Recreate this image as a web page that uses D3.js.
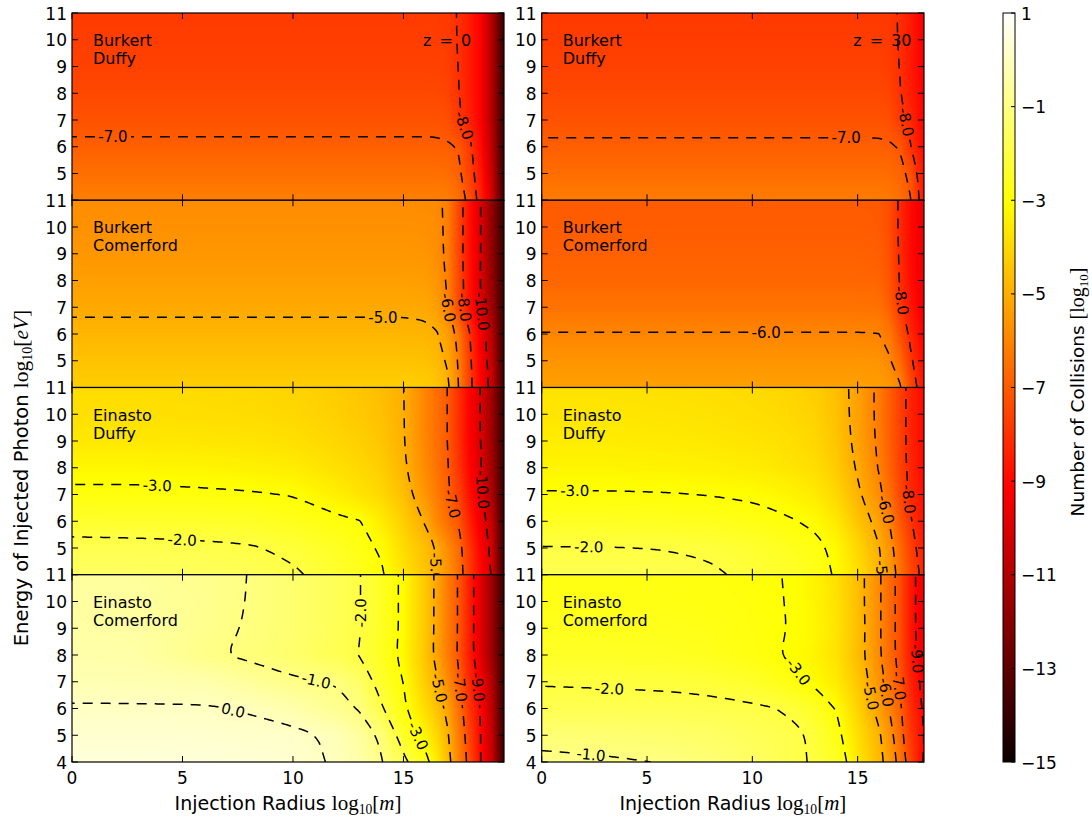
<!DOCTYPE html>
<html>
<head>
<meta charset="utf-8">
<script src="https://cdn.jsdelivr.net/npm/d3@7"></script>
<style>
  body { margin: 0; background: #fff; }
  svg { display: block; }
  text { font-family: "DejaVu Sans", sans-serif; fill: #000; }
</style>
</head>
<body>
<svg id="chart" width="1092" height="818"></svg>
<script>
// ---- grid axes (log10 radius, log10 energy) ----
var radiusZ0 = [0, 3, 6, 8, 10, 12, 13, 14, 15, 16, 16.5, 17, 17.5, 18, 18.5, 19, 19.55];
var radiusZ30 = [0, 3, 6, 8, 10, 11, 12, 13, 14, 15, 16, 16.5, 17, 17.5, 18, 18.15];
var energies = [4, 5, 6, 7, 8, 9, 10, 11];

// ---- log10 number of collisions, rows go from E = 4 up to E = 11 ----
var burkertDuffyZ0 = [
  [-6.1, -6.1, -6.1, -6.1, -6.1, -6.1, -6.1, -6.1, -6.1, -6.1, -6.1, -6.15, -6.5, -7.3, -8.4, -10.2, -14],
  [-6.5, -6.5, -6.5, -6.5, -6.5, -6.5, -6.5, -6.5, -6.5, -6.5, -6.5, -6.55, -6.85, -7.6, -8.6, -10.5, -14],
  [-6.88, -6.88, -6.88, -6.88, -6.88, -6.88, -6.88, -6.88, -6.88, -6.88, -6.88, -6.92, -7.05, -7.8, -8.9, -10.8, -14],
  [-7.2, -7.2, -7.2, -7.2, -7.2, -7.2, -7.2, -7.2, -7.2, -7.2, -7.22, -7.3, -7.85, -8.4, -9.2, -11, -14],
  [-7.45, -7.45, -7.45, -7.45, -7.45, -7.45, -7.45, -7.45, -7.45, -7.45, -7.46, -7.55, -7.98, -8.5, -9.2, -11, -14],
  [-7.6, -7.6, -7.6, -7.6, -7.6, -7.6, -7.6, -7.6, -7.6, -7.6, -7.61, -7.68, -8.02, -8.5, -9.2, -11, -14],
  [-7.7, -7.7, -7.7, -7.7, -7.7, -7.7, -7.7, -7.7, -7.7, -7.7, -7.71, -7.76, -8.05, -8.5, -9.2, -11, -14],
  [-7.75, -7.75, -7.75, -7.75, -7.75, -7.75, -7.75, -7.75, -7.75, -7.75, -7.76, -7.8, -8.05, -8.5, -9.2, -11, -14]
];
var burkertComerfordZ0 = [
  [-4.2, -4.2, -4.2, -4.2, -4.2, -4.2, -4.2, -4.2, -4.2, -4.25, -4.4, -4.85, -6.02, -7.7, -9.1, -10.4, -14],
  [-4.5, -4.5, -4.5, -4.5, -4.5, -4.5, -4.5, -4.5, -4.5, -4.55, -4.7, -5.1, -6.1, -7.8, -9.2, -10.6, -14],
  [-4.8, -4.8, -4.8, -4.8, -4.8, -4.8, -4.8, -4.8, -4.8, -4.85, -4.95, -5.35, -6.3, -7.98, -9.4, -10.9, -14],
  [-5.12, -5.12, -5.12, -5.12, -5.12, -5.12, -5.12, -5.12, -5.12, -5.15, -5.35, -5.98, -7.4, -8.7, -9.95, -11.5, -14],
  [-5.35, -5.35, -5.35, -5.35, -5.35, -5.35, -5.35, -5.35, -5.35, -5.4, -5.6, -6.1, -7.45, -8.75, -10.05, -11.7, -14],
  [-5.55, -5.55, -5.55, -5.55, -5.55, -5.55, -5.55, -5.55, -5.55, -5.6, -5.75, -6.15, -7.5, -8.8, -10.02, -11.8, -14],
  [-5.7, -5.7, -5.7, -5.7, -5.7, -5.7, -5.7, -5.7, -5.7, -5.72, -5.8, -6.15, -7.5, -8.8, -10.02, -11.8, -14],
  [-5.8, -5.8, -5.8, -5.8, -5.8, -5.8, -5.8, -5.8, -5.8, -5.82, -5.85, -6.15, -7.5, -8.8, -10.02, -11.8, -14]
];
var einastoDuffyZ0 = [
  [-1.5, -1.52, -1.58, -1.68, -1.9, -2.3, -2.6, -2.9, -3.7, -4.5, -5.02, -5.6, -6.5, -7.8, -9.0, -10.1, -14],
  [-1.75, -1.78, -1.85, -1.93, -2.15, -2.5, -2.75, -3.1, -3.9, -4.6, -5.05, -5.8, -6.6, -7.9, -9.2, -10.3, -14],
  [-2.35, -2.37, -2.4, -2.45, -2.6, -2.85, -2.97, -3.5, -4.2, -5.1, -5.9, -6.5, -7.1, -8.4, -9.5, -10.6, -14],
  [-2.85, -2.85, -2.9, -2.94, -3.03, -3.45, -3.7, -4.0, -4.6, -5.6, -6.2, -6.85, -7.6, -8.8, -9.75, -11.2, -14],
  [-3.25, -3.25, -3.3, -3.38, -3.5, -3.8, -3.98, -4.25, -4.85, -5.85, -6.4, -6.95, -7.9, -9.1, -9.95, -11.4, -14],
  [-3.6, -3.6, -3.65, -3.7, -3.8, -4.05, -4.2, -4.45, -4.95, -5.95, -6.5, -7.02, -8.02, -9.2, -10.02, -11.5, -14],
  [-3.8, -3.8, -3.85, -3.9, -4.0, -4.2, -4.35, -4.55, -4.97, -6.0, -6.5, -7.02, -8.02, -9.2, -10.05, -11.5, -14],
  [-3.9, -3.9, -3.95, -4.0, -4.1, -4.3, -4.45, -4.65, -4.98, -6.0, -6.5, -7.02, -8.02, -9.2, -10.05, -11.5, -14]
];
var einastoComerfordZ0 = [
  [0.4, 0.4, 0.38, 0.33, 0.22, -0.08, -0.35, -0.95, -1.8, -2.75, -3.5, -4.6, -6.02, -7.4, -9.02, -10.5, -14],
  [0.25, 0.25, 0.23, 0.18, 0.15, -0.12, -0.55, -1.15, -2.4, -3.35, -4.0, -4.9, -6.2, -7.6, -9.02, -10.6, -14],
  [0.05, 0.05, 0.05, -0.05, -0.3, -0.78, -1.05, -1.9, -2.85, -3.9, -4.5, -5.25, -6.5, -7.9, -9.1, -10.8, -14],
  [-0.2, -0.22, -0.3, -0.6, -0.9, -1.05, -1.4, -2.35, -3.02, -4.3, -4.9, -5.8, -6.9, -8.2, -9.3, -11.0, -14],
  [-0.35, -0.42, -0.88, -1.12, -1.35, -1.75, -2.02, -2.55, -3.2, -4.45, -5.25, -6.2, -7.15, -8.55, -9.9, -11.5, -14],
  [-0.45, -0.5, -0.8, -1.05, -1.3, -1.7, -1.97, -2.5, -3.15, -4.4, -5.2, -6.2, -7.1, -8.5, -9.9, -11.5, -14],
  [-0.5, -0.55, -0.78, -1.02, -1.3, -1.7, -1.97, -2.5, -3.15, -4.4, -5.2, -6.2, -7.1, -8.5, -9.9, -11.5, -14],
  [-0.55, -0.6, -0.8, -1.01, -1.3, -1.7, -1.97, -2.5, -3.15, -4.4, -5.2, -6.2, -7.1, -8.5, -9.9, -11.5, -14]
];
var burkertDuffyZ30 = [
  [-6.2, -6.2, -6.2, -6.2, -6.2, -6.2, -6.2, -6.2, -6.2, -6.2, -6.2, -6.25, -6.45, -6.95, -8.2, -8.6],
  [-6.55, -6.55, -6.55, -6.55, -6.55, -6.55, -6.55, -6.55, -6.55, -6.55, -6.55, -6.6, -6.75, -7.2, -8.4, -8.8],
  [-6.9, -6.9, -6.9, -6.9, -6.9, -6.9, -6.9, -6.9, -6.9, -6.9, -6.9, -6.92, -7.05, -7.95, -8.7, -9.0],
  [-7.2, -7.2, -7.2, -7.2, -7.2, -7.2, -7.2, -7.2, -7.2, -7.2, -7.2, -7.3, -7.75, -8.2, -8.9, -9.2],
  [-7.45, -7.45, -7.45, -7.45, -7.45, -7.45, -7.45, -7.45, -7.45, -7.45, -7.45, -7.55, -7.95, -8.45, -9.0, -9.3],
  [-7.6, -7.6, -7.6, -7.6, -7.6, -7.6, -7.6, -7.6, -7.6, -7.6, -7.6, -7.7, -8.02, -8.5, -9.1, -9.4],
  [-7.72, -7.72, -7.72, -7.72, -7.72, -7.72, -7.72, -7.72, -7.72, -7.72, -7.72, -7.8, -8.05, -8.5, -9.1, -9.4],
  [-7.8, -7.8, -7.8, -7.8, -7.8, -7.8, -7.8, -7.8, -7.8, -7.8, -7.8, -7.85, -8.05, -8.5, -9.1, -9.4]
];
var burkertComerfordZ30 = [
  [-5.3, -5.3, -5.3, -5.3, -5.3, -5.3, -5.3, -5.3, -5.3, -5.3, -5.35, -5.5, -5.85, -7.3, -8.4, -8.8],
  [-5.6, -5.6, -5.6, -5.6, -5.6, -5.6, -5.6, -5.6, -5.6, -5.6, -5.65, -5.9, -6.6, -7.8, -8.7, -9.0],
  [-5.97, -5.97, -5.97, -5.97, -5.97, -5.97, -5.97, -5.97, -5.97, -5.97, -5.99, -6.3, -7.2, -8.2, -9.0, -9.3],
  [-6.4, -6.4, -6.4, -6.4, -6.4, -6.4, -6.4, -6.4, -6.4, -6.4, -6.45, -6.9, -7.8, -8.6, -9.3, -9.6],
  [-6.7, -6.7, -6.7, -6.7, -6.7, -6.7, -6.7, -6.7, -6.7, -6.7, -6.75, -7.15, -8.05, -8.8, -9.45, -9.7],
  [-6.85, -6.85, -6.85, -6.85, -6.85, -6.85, -6.85, -6.85, -6.85, -6.85, -6.9, -7.25, -8.1, -8.9, -9.5, -9.8],
  [-6.95, -6.95, -6.95, -6.95, -6.95, -6.95, -6.95, -6.95, -6.95, -6.95, -7.0, -7.3, -8.15, -8.9, -9.5, -9.8],
  [-7.0, -7.0, -7.0, -7.0, -7.0, -7.0, -7.0, -7.0, -7.0, -7.0, -7.05, -7.3, -8.15, -8.9, -9.5, -9.8]
];
var einastoDuffyZ30 = [
  [-1.75, -1.76, -1.82, -1.9, -2.15, -2.3, -2.45, -2.65, -3.1, -3.8, -4.8, -5.4, -6.35, -7.4, -8.1, -8.4],
  [-1.97, -1.98, -2.02, -2.1, -2.3, -2.45, -2.6, -2.8, -3.2, -4.0, -4.95, -5.6, -6.6, -7.6, -8.3, -8.6],
  [-2.5, -2.5, -2.55, -2.6, -2.75, -2.85, -2.97, -3.15, -3.6, -4.45, -5.3, -6.02, -7.02, -7.9, -8.55, -8.8],
  [-2.95, -2.95, -2.97, -3.02, -3.1, -3.2, -3.35, -3.55, -4.0, -4.85, -5.75, -6.5, -7.4, -8.15, -8.7, -8.9],
  [-3.3, -3.3, -3.35, -3.4, -3.5, -3.58, -3.7, -3.87, -4.3, -5.1, -6.05, -6.75, -7.55, -8.25, -8.8, -9.0],
  [-3.5, -3.5, -3.55, -3.6, -3.7, -3.77, -3.87, -4.03, -4.45, -5.25, -6.15, -6.85, -7.6, -8.3, -8.8, -9.0],
  [-3.65, -3.65, -3.7, -3.75, -3.85, -3.9, -4.0, -4.15, -4.55, -5.3, -6.2, -6.9, -7.6, -8.3, -8.8, -9.0],
  [-3.75, -3.75, -3.8, -3.85, -3.95, -4.0, -4.1, -4.25, -4.6, -5.3, -6.2, -6.9, -7.6, -8.3, -8.8, -9.0]
];
var einastoComerfordZ30 = [
  [-0.85, -0.92, -1.03, -1.2, -1.5, -1.65, -1.85, -2.1, -2.45, -3.6, -4.7, -5.4, -6.3, -7.5, -8.8, -9.1],
  [-1.2, -1.25, -1.35, -1.45, -1.65, -1.78, -1.85, -2.15, -2.75, -3.8, -4.85, -5.6, -6.6, -7.8, -8.7, -9.0],
  [-1.75, -1.76, -1.78, -1.82, -1.9, -1.98, -2.15, -2.5, -3.05, -4.1, -5.3, -6.02, -6.8, -8.02, -8.9, -9.2],
  [-2.05, -2.08, -2.12, -2.2, -2.4, -2.6, -2.85, -3.15, -3.55, -4.4, -5.6, -6.35, -7.1, -8.3, -9.1, -9.4],
  [-2.45, -2.47, -2.52, -2.6, -2.8, -2.95, -3.1, -3.35, -3.75, -4.6, -5.85, -6.6, -7.3, -8.5, -9.3, -9.6],
  [-2.6, -2.61, -2.65, -2.72, -2.85, -2.95, -3.03, -3.25, -3.7, -4.55, -5.85, -6.6, -7.3, -8.6, -9.4, -9.7],
  [-2.7, -2.71, -2.75, -2.8, -2.88, -2.97, -3.03, -3.3, -3.75, -4.6, -5.85, -6.6, -7.3, -8.6, -9.4, -9.7],
  [-2.75, -2.76, -2.8, -2.85, -2.92, -2.98, -3.03, -3.35, -3.8, -4.6, -5.85, -6.6, -7.3, -8.6, -9.4, -9.6]
];

// contour levels drawn in each panel
var levelsBurkertDuffyZ0 = [-8, -7];
var levelsBurkertComerfordZ0 = [-10, -8, -6, -5];
var levelsEinastoDuffyZ0 = [-10, -7, -5, -3, -2];
var levelsEinastoComerfordZ0 = [-9, -7, -5, -3, -2, -1, 0];
var levelsBurkertDuffyZ30 = [-8, -7];
var levelsBurkertComerfordZ30 = [-8, -6];
var levelsEinastoDuffyZ30 = [-8, -6, -5, -3, -2];
var levelsEinastoComerfordZ30 = [-9, -7, -6, -5, -3, -2, -1];

var radiusTicks = [0, 5, 10, 15];
var energyTicks = [4, 5, 6, 7, 8, 9, 10, 11];
var colorTicks = [1, -1, -3, -5, -7, -9, -11, -13, -15];

// where matplotlib put the inline contour labels: [level, radius, energy]
var labelSpots = [
  [[-7, 1.88, 6.35], [-8, 17.78, 6.81]],
  [[-5, 14.07, 6.64], [-6, 17.0, 6.96], [-8, 17.86, 7.0], [-10, 18.6, 6.83]],
  [[-3, 3.83, 7.29], [-2, 4.96, 5.34], [-5, 16.55, 4.3], [-7, 17.25, 6.67], [-10, 18.6, 7.17]],
  [[0, 7.3, 6.07], [-1, 11.07, 7.0], [-2, 13.1, 9.56], [-3, 15.97, 5.07], [-5, 16.73, 6.81], [-7, 17.63, 6.81], [-9, 18.3, 6.81]],
  [[-7, 14.47, 6.31], [-8, 17.45, 6.94]],
  [[-6, 10.68, 6.09], [-8, 17.3, 7.3]],
  [[-3, 1.58, 7.1], [-2, 2.21, 5.1], [-6, 16.37, 6.42], [-8, 17.45, 6.86], [-5, 16.2, 4.02]],
  [[-2, 3.24, 6.88], [-1, 2.37, 4.38], [-3, 12.1, 7.32], [-5, 15.82, 6.5], [-6, 16.45, 6.63], [-7, 17.0, 6.88], [-9, 17.8, 7.87]]
];

var panels = [
  {col: 0, row: 0, title: ["Burkert", "Duffy"], z: "z = 0", values: burkertDuffyZ0, levels: levelsBurkertDuffyZ0},
  {col: 0, row: 1, title: ["Burkert", "Comerford"], values: burkertComerfordZ0, levels: levelsBurkertComerfordZ0},
  {col: 0, row: 2, title: ["Einasto", "Duffy"], values: einastoDuffyZ0, levels: levelsEinastoDuffyZ0},
  {col: 0, row: 3, title: ["Einasto", "Comerford"], values: einastoComerfordZ0, levels: levelsEinastoComerfordZ0},
  {col: 1, row: 0, title: ["Burkert", "Duffy"], z: "z = 30", values: burkertDuffyZ30, levels: levelsBurkertDuffyZ30},
  {col: 1, row: 1, title: ["Burkert", "Comerford"], values: burkertComerfordZ30, levels: levelsBurkertComerfordZ30},
  {col: 1, row: 2, title: ["Einasto", "Duffy"], values: einastoDuffyZ30, levels: levelsEinastoDuffyZ30},
  {col: 1, row: 3, title: ["Einasto", "Comerford"], values: einastoComerfordZ30, levels: levelsEinastoComerfordZ30}
];

// ---- layout ----
var svg = d3.select("#chart");
var defs = svg.append("defs");
var rowTop = 13, rowH = 187.25;
var columns = [
  {xs: radiusZ0, x: d3.scaleLinear().domain([0, 19.55]).range([72, 504]), zDx: 351},
  {xs: radiusZ30, x: d3.scaleLinear().domain([0, 18.15]).range([541.7, 924]), zDx: 311.5}
];

// matplotlib "hot" colour map
var hot = d3.scaleLinear()
  .domain([-15, -15 + 16 * 0.365079, -15 + 16 * 0.746032, 1])
  .range(["rgb(11,0,0)", "rgb(255,0,0)", "rgb(255,255,0)", "rgb(255,255,255)"])
  .clamp(true);
var lut = d3.range(1024).map(function (k) { return d3.rgb(hot(-15 + 16 * k / 1023)); });

function cellIndex(arr, v) {
  var i = d3.bisectRight(arr, v) - 1;
  return Math.max(0, Math.min(arr.length - 2, i));
}

function sampleGrid(values, xs, ys, xv, yv) {
  var i = cellIndex(xs, xv), j = cellIndex(ys, yv);
  var tx = Math.max(0, Math.min(1, (xv - xs[i]) / (xs[i + 1] - xs[i])));
  var ty = Math.max(0, Math.min(1, (yv - ys[j]) / (ys[j + 1] - ys[j])));
  var a = values[j][i] * (1 - tx) + values[j][i + 1] * tx;
  var b = values[j + 1][i] * (1 - tx) + values[j + 1][i + 1] * tx;
  return a * (1 - ty) + b * ty;
}

function lerpAxis(arr, t) {
  var i = Math.min(Math.floor(t), arr.length - 2);
  return arr[i] + (t - i) * (arr[i + 1] - arr[i]);
}

// marching squares on the grid, returns polylines in index space
function isoLines(values, level) {
  var ny = values.length, nx = values[0].length;
  var segs = [];
  function cross(kind, i, j) {
    var a, b;
    if (kind === "h") {
      a = values[j][i]; b = values[j][i + 1];
      return {k: "h" + i + "," + j, p: [i + (level - a) / (b - a), j]};
    }
    a = values[j][i]; b = values[j + 1][i];
    return {k: "v" + i + "," + j, p: [i, j + (level - a) / (b - a)]};
  }
  for (var j = 0; j < ny - 1; j++) {
    for (var i = 0; i < nx - 1; i++) {
      var c0 = values[j][i] > level, c1 = values[j][i + 1] > level,
          c2 = values[j + 1][i + 1] > level, c3 = values[j + 1][i] > level;
      var e = [];
      if (c0 !== c1) e.push(cross("h", i, j));
      if (c1 !== c2) e.push(cross("v", i + 1, j));
      if (c3 !== c2) e.push(cross("h", i, j + 1));
      if (c0 !== c3) e.push(cross("v", i, j));
      if (e.length === 2) {
        segs.push([e[0], e[1]]);
      } else if (e.length === 4) {
        var mid = (values[j][i] + values[j][i + 1] + values[j + 1][i + 1] + values[j + 1][i]) / 4 > level;
        if (mid === c0) { segs.push([e[0], e[1]]); segs.push([e[2], e[3]]); }
        else { segs.push([e[0], e[3]]); segs.push([e[1], e[2]]); }
      }
    }
  }
  var byKey = {};
  segs.forEach(function (s, n) {
    s.forEach(function (end) { (byKey[end.k] = byKey[end.k] || []).push(n); });
  });
  var used = segs.map(function () { return false; });
  function follow(n, startEnd) {
    var line = [segs[n][startEnd].p];
    var cur = n, end = 1 - startEnd;
    while (true) {
      used[cur] = true;
      var pt = segs[cur][end];
      line.push(pt.p);
      var next = byKey[pt.k].filter(function (m) { return !used[m]; })[0];
      if (next === undefined) break;
      end = segs[next][0].k === pt.k ? 1 : 0;
      cur = next;
    }
    return line;
  }
  var lines = [];
  segs.forEach(function (s, n) {
    if (used[n]) return;
    for (var e = 0; e < 2; e++) {
      if (byKey[s[e].k].length === 1) { lines.push(follow(n, e)); return; }
    }
  });
  segs.forEach(function (s, n) { if (!used[n]) lines.push(follow(n, 0)); });
  return lines;
}

function chaikin(pts, iter) {
  for (var k = 0; k < iter; k++) {
    var out = [pts[0]];
    for (var i = 0; i < pts.length - 1; i++) {
      var a = pts[i], b = pts[i + 1];
      out.push([0.75 * a[0] + 0.25 * b[0], 0.75 * a[1] + 0.25 * b[1]]);
      out.push([0.25 * a[0] + 0.75 * b[0], 0.25 * a[1] + 0.75 * b[1]]);
    }
    out.push(pts[pts.length - 1]);
    pts = out;
  }
  return pts;
}

function resample(pts, step) {
  var out = [pts[0]], d = step;
  for (var i = 0; i < pts.length - 1; i++) {
    var a = pts[i], b = pts[i + 1];
    var L = Math.hypot(b[0] - a[0], b[1] - a[1]);
    while (d <= L) {
      out.push([a[0] + (b[0] - a[0]) * d / L, a[1] + (b[1] - a[1]) * d / L]);
      d += step;
    }
    d -= L;
  }
  out.push(pts[pts.length - 1]);
  return out;
}

function heatUrl(p, col, y, top) {
  var x = col.x, x0 = x.range()[0], x1 = x.range()[1];
  var w = Math.ceil(x1 - x0), h = Math.ceil(rowH);
  var cv = document.createElement("canvas");
  cv.width = w; cv.height = h;
  var ctx = cv.getContext("2d");
  var img = ctx.createImageData(w, h);
  for (var py = 0; py < h; py++) {
    var ev = y.invert(top + py + 0.5);
    for (var px = 0; px < w; px++) {
      var v = sampleGrid(p.values, col.xs, energies, x.invert(x0 + px + 0.5), ev);
      var k = Math.max(0, Math.min(1023, Math.round((v + 15) / 16 * 1023)));
      var c = lut[k], o = (py * w + px) * 4;
      img.data[o] = c.r; img.data[o + 1] = c.g; img.data[o + 2] = c.b; img.data[o + 3] = 255;
    }
  }
  ctx.putImageData(img, 0, 0);
  return {url: cv.toDataURL(), w: w, h: h};
}

var line = d3.line();

panels.forEach(function (p, pi) {
  var col = columns[p.col], x = col.x;
  var x0 = x.range()[0], x1 = x.range()[1];
  var top = rowTop + p.row * rowH;
  var y = d3.scaleLinear().domain([4, 11]).range([top + rowH, top]);
  var g = svg.append("g");

  defs.append("clipPath").attr("id", "clip" + pi)
    .append("rect").attr("x", x0).attr("y", top).attr("width", x1 - x0).attr("height", rowH);
  var body = g.append("g").attr("clip-path", "url(#clip" + pi + ")");

  var heat = heatUrl(p, col, y, top);
  body.append("image")
    .attr("href", heat.url)
    .attr("x", x0).attr("y", top)
    .attr("width", heat.w).attr("height", heat.h)
    .attr("preserveAspectRatio", "none");

  // contour polylines in pixel space
  var levelLines = {};
  p.levels.forEach(function (lev) {
    levelLines[lev] = isoLines(p.values, lev + 1e-7).map(function (ln) {
      var pts = ln.map(function (q) {
        return [x(lerpAxis(col.xs, q[0])), y(lerpAxis(energies, q[1]))];
      });
      return {pts: resample(chaikin(pts, 3), 1.5), gaps: []};
    });
  });

  // inline labels
  labelSpots[pi].forEach(function (spot) {
    var lines = levelLines[spot[0]];
    if (!lines || !lines.length) return;
    var sx = x(spot[1]), sy = y(spot[2]);
    var best = null, bd = Infinity;
    lines.forEach(function (ln) {
      ln.pts.forEach(function (q, qi) {
        var d = (q[0] - sx) * (q[0] - sx) + (q[1] - sy) * (q[1] - sy);
        if (d < bd) { bd = d; best = {ln: ln, qi: qi}; }
      });
    });
    var pts = best.ln.pts, c = pts[best.qi];
    var a = pts[Math.max(0, best.qi - 5)], b = pts[Math.min(pts.length - 1, best.qi + 5)];
    var ang = Math.atan2(b[1] - a[1], b[0] - a[0]) * 180 / Math.PI;
    while (ang > 90) ang -= 180;
    while (ang <= -90) ang += 180;
    var t = body.append("text")
      .attr("transform", "translate(" + c[0] + "," + c[1] + ") rotate(" + ang + ")")
      .attr("text-anchor", "middle")
      .attr("dy", "0.36em")
      .style("font-size", "15px")
      .text(spot[0].toFixed(1));
    best.ln.gaps.push({x: c[0], y: c[1], r: t.node().getComputedTextLength() / 2 + 3});
  });

  p.levels.forEach(function (lev) {
    levelLines[lev].forEach(function (ln) {
      var pieces = [], cur = [];
      ln.pts.forEach(function (q) {
        var inGap = ln.gaps.some(function (gp) { return Math.hypot(q[0] - gp.x, q[1] - gp.y) < gp.r; });
        if (inGap) { if (cur.length > 1) pieces.push(cur); cur = []; }
        else cur.push(q);
      });
      if (cur.length > 1) pieces.push(cur);
      pieces.forEach(function (pc) {
        body.append("path")
          .attr("d", line(pc))
          .attr("fill", "none")
          .attr("stroke", "#000")
          .attr("stroke-width", 1.5)
          .attr("stroke-dasharray", "10,8");
      });
    });
  });

  // panel text
  var title = g.append("text").style("font-size", "16px");
  title.append("tspan").attr("x", x0 + 21).attr("y", top + 33).text(p.title[0]);
  title.append("tspan").attr("x", x0 + 21).attr("y", top + 51).text(p.title[1]);
  if (p.z) {
    g.append("text").attr("x", x0 + col.zDx).attr("y", top + 33)
      .style("font-size", "16px").style("word-spacing", "3px").text(p.z);
  }

  // frame and ticks
  g.append("rect").attr("x", x0).attr("y", top).attr("width", x1 - x0).attr("height", rowH)
    .attr("fill", "none").attr("stroke", "#000").attr("stroke-width", 1.2);
  energyTicks.forEach(function (e) {
    g.append("line").attr("x1", x0).attr("x2", x0 + 6).attr("y1", y(e)).attr("y2", y(e)).attr("stroke", "#000");
    g.append("line").attr("x1", x1 - 6).attr("x2", x1).attr("y1", y(e)).attr("y2", y(e)).attr("stroke", "#000");
    if (e > 4 || p.row === 3) {
      g.append("text").attr("x", x0 - 5).attr("y", y(e) + 6.5)
        .attr("text-anchor", "end").style("font-size", "17px").text(e);
    }
  });
  radiusTicks.forEach(function (r) {
    g.append("line").attr("x1", x(r)).attr("x2", x(r)).attr("y1", top).attr("y2", top + 6).attr("stroke", "#000");
    g.append("line").attr("x1", x(r)).attr("x2", x(r)).attr("y1", top + rowH - 6).attr("y2", top + rowH).attr("stroke", "#000");
    if (p.row === 3) {
      g.append("text").attr("x", x(r)).attr("y", top + rowH + 22)
        .attr("text-anchor", "middle").style("font-size", "17px").text(r);
    }
  });
});

// ---- axis labels ----
function mathPart(sel, parts, size) {
  parts.forEach(function (pt) {
    var ts = sel.append("tspan").style("font-family", "'Liberation Serif', 'DejaVu Serif', serif")
      .style("font-size", (pt.sub ? size * 0.65 : size) + "px").text(pt.t);
    if (pt.italic) ts.style("font-style", "italic");
    if (pt.sub) ts.attr("dy", 4);
    if (pt.up) ts.attr("dy", -4);
  });
}

columns.forEach(function (col) {
  var xl = svg.append("text")
    .attr("x", (col.x.range()[0] + col.x.range()[1]) / 2).attr("y", 810)
    .attr("text-anchor", "middle").style("font-size", "19px");
  xl.append("tspan").text("Injection Radius ");
  mathPart(xl, [{t: "log"}, {t: "10", sub: true}, {t: "[", up: true}, {t: "m", italic: true}, {t: "]"}], 21);
});

var yl = svg.append("text")
  .attr("transform", "translate(28,478) rotate(-90)")
  .attr("text-anchor", "middle").style("font-size", "19.5px");
yl.append("tspan").text("Energy of Injected Photon ");
mathPart(yl, [{t: "log"}, {t: "10", sub: true}, {t: "[", up: true}, {t: "eV", italic: true}, {t: "]"}], 21.5);

// ---- colour bar ----
var cbX = 1003, cbW = 12;
var cbY = d3.scaleLinear().domain([-15, 1]).range([762, 13]);
var grad = defs.append("linearGradient").attr("id", "hotGrad")
  .attr("x1", 0).attr("y1", 0).attr("x2", 0).attr("y2", 1);
hot.domain().slice().reverse().forEach(function (v) {
  grad.append("stop").attr("offset", (1 - v) / 16).attr("stop-color", hot(v));
});
svg.append("rect").attr("x", cbX).attr("y", 13).attr("width", cbW).attr("height", 749)
  .attr("fill", "url(#hotGrad)").attr("stroke", "#000").attr("stroke-width", 1);
colorTicks.forEach(function (v) {
  svg.append("line").attr("x1", cbX + cbW - 4).attr("x2", cbX + cbW)
    .attr("y1", cbY(v)).attr("y2", cbY(v)).attr("stroke", "#000");
  svg.append("text").attr("x", cbX + cbW + 6).attr("y", cbY(v) + 6.5)
    .style("font-size", "17px").text(d3.format("d")(v));
});
var cl = svg.append("text")
  .attr("transform", "translate(1084,392) rotate(-90)")
  .attr("text-anchor", "middle").style("font-size", "18.5px");
cl.append("tspan").text("Number of Collisions ");
mathPart(cl, [{t: "[log"}, {t: "10", sub: true}, {t: "]", up: true}], 20);
</script>
</body>
</html>
